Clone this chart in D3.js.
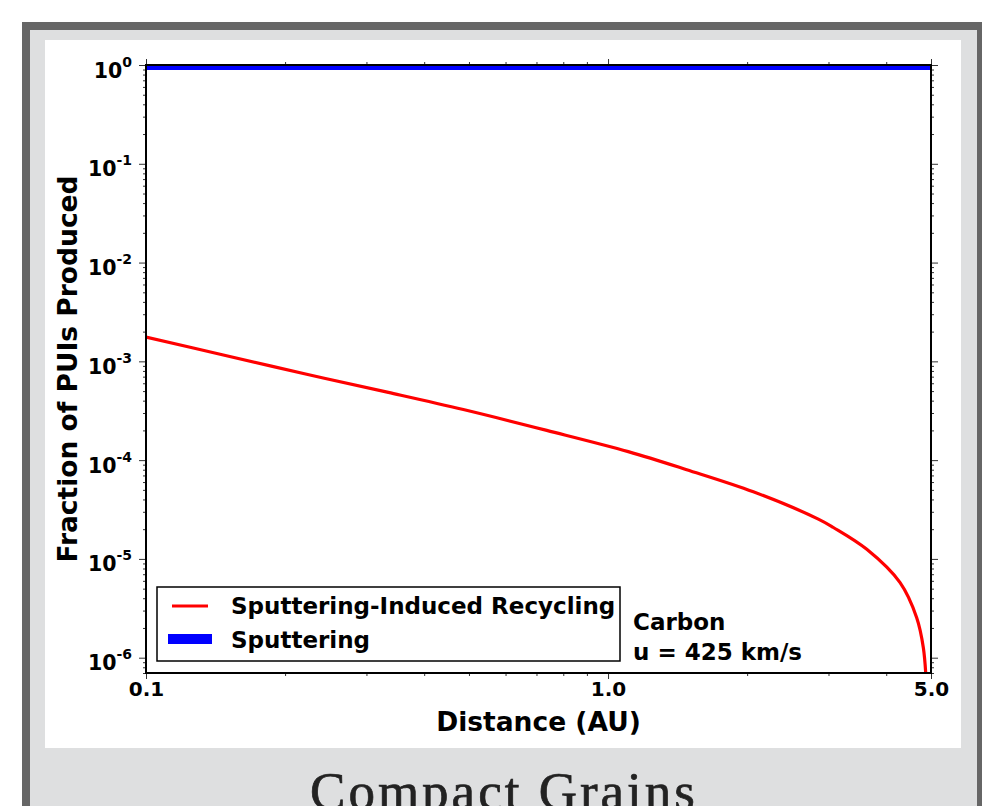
<!DOCTYPE html>
<html>
<head>
<meta charset="utf-8">
<script src="https://d3js.org/d3.v7.min.js"></script>
<style>
    body { margin: 0; background: #fff; }
    svg { display: block; }
    .chart text { font-family: "DejaVu Sans", sans-serif; font-weight: bold; fill: #000; }
    .axis path { display: none; }
    .axis line { stroke: #333; stroke-width: 1; }
</style>
</head>
<body>
<div id="card"></div>
<script>

// data
const distAU = [0.1, 0.147, 0.2227, 0.3346, 0.4862, 0.7368, 1.106, 1.48, 2.063, 2.852, 3.074, 3.631, 4.286, 4.656, 4.813, 4.89];
const recyclingFrac = [1.76e-3, 1.16e-3, 7.4e-4, 4.85e-4, 3.25e-4, 2.0e-4, 1.22e-4, 8.0e-5, 4.78e-5, 2.53e-5, 2.08e-5, 1.25e-5, 5.75e-6, 2.54e-6, 1.26e-6, 5e-7];
const sputterDist = [0.1, 5.0];
const sputterFrac = [1, 1];

const xTickValues = [0.1, 1.0, 5.0];
const xTickLabels = ["0.1", "1.0", "5.0"];
const yExponents = [0, -1, -2, -3, -4, -5, -6];

const legendLabels = ["Sputtering-Induced Recycling", "Sputtering"];
const noteLines = ["Carbon", "u = 425 km/s"];
const xTitle = "Distance (AU)";
const yTitle = "Fraction of PUIs Produced";
const cardTitle = "Compact Grains";

class CurveVis {

    constructor(parentElement){
        this.parentElement = parentElement;
        this.initVis();
    }

    initVis(){
        let vis = this;

        vis.svg = d3.select("#" + vis.parentElement).append("svg")
            .attr("width", 982)
            .attr("height", 806);

        // card frame: dark border, grey panel, white plot sheet
        vis.svg.append("rect").attr("x", 22).attr("y", 22).attr("width", 960).attr("height", 800).attr("fill", "#666666");
        vis.svg.append("rect").attr("x", 30).attr("y", 30).attr("width", 947).attr("height", 790).attr("fill", "#dedfe0");
        vis.svg.append("rect").attr("x", 45).attr("y", 40).attr("width", 916).attr("height", 708).attr("fill", "#ffffff");

        vis.svg.append("text")
            .attr("x", 504)
            .attr("y", 809)
            .attr("text-anchor", "middle")
            .style("font-family", "'Palatino Linotype', 'Book Antiqua', Palatino, 'Liberation Serif', serif")
            .style("font-size", "53px")
            .style("letter-spacing", "3px")
            .style("fill", "#222")
            .style("stroke", "#222")
            .style("stroke-width", 0.7)
            .text(cardTitle);

        // plot area
        vis.left = 146; vis.right = 931; vis.top = 65; vis.bottom = 673;

        vis.x = d3.scaleLog().domain([0.1, 5.0]).range([vis.left, vis.right]);
        vis.y = d3.scaleLog().domain([7e-7, 1]).range([vis.bottom, vis.top]);

        vis.chart = vis.svg.append("g").attr("class", "chart");

        vis.chart.append("clipPath").attr("id", "plotClip")
            .append("rect")
            .attr("x", vis.left).attr("y", vis.top)
            .attr("width", vis.right - vis.left).attr("height", vis.bottom - vis.top);

        vis.wrangleData();
    }

    wrangleData(){
        let vis = this;

        vis.recycling = distAU.map((d, i) => ({x: d, y: recyclingFrac[i]}));
        vis.sputter = sputterDist.map((d, i) => ({x: d, y: sputterFrac[i]}));

        // minor ticks 2..9 in each decade
        vis.xMinor = [];
        vis.yMinor = [];
        for (let k = -2; k <= 1; k++) {
            for (let m = 2; m <= 9; m++) {
                let v = m * Math.pow(10, k);
                if (v > 0.1 && v < 5.0 && !xTickValues.includes(v)) vis.xMinor.push(v);
            }
        }
        for (let k = -7; k <= 0; k++) {
            for (let m = 2; m <= 9; m++) {
                let v = m * Math.pow(10, k);
                if (v >= 7e-7 && v < 1) vis.yMinor.push(v);
            }
        }

        vis.updateVis();
    }

    updateVis(){
        let vis = this;

        let line = d3.line()
            .x(d => vis.x(d.x))
            .y(d => vis.y(d.y))
            .curve(d3.curveCatmullRom.alpha(0.5));

        let lines = vis.chart.append("g").attr("clip-path", "url(#plotClip)");

        lines.append("path")
            .datum(vis.sputter)
            .attr("d", line)
            .attr("fill", "none")
            .attr("stroke", "#0000ff")
            .attr("stroke-width", 10);

        lines.append("path")
            .datum(vis.recycling)
            .attr("d", line)
            .attr("fill", "none")
            .attr("stroke", "#ff0000")
            .attr("stroke-width", 3.2);

        // axes: majors and minors on all four sides
        let yVals = yExponents.map(e => Math.pow(10, e));

        let addAxis = (axisFn, scale, values, size, tx, ty) => {
            return vis.chart.append("g")
                .attr("class", "axis")
                .attr("transform", `translate(${tx},${ty})`)
                .call(axisFn(scale).tickValues(values).tickSize(size).tickFormat(""));
        };

        addAxis(d3.axisBottom, vis.x, vis.xMinor, 3, 0, vis.bottom);
        addAxis(d3.axisTop, vis.x, vis.xMinor, 3, 0, vis.top);
        addAxis(d3.axisTop, vis.x, xTickValues, 6, 0, vis.top);
        addAxis(d3.axisLeft, vis.y, vis.yMinor, 3, vis.left, 0);
        addAxis(d3.axisRight, vis.y, vis.yMinor, 3, vis.right, 0);
        addAxis(d3.axisRight, vis.y, yVals, 7, vis.right, 0);

        let xAxis = addAxis(d3.axisBottom, vis.x, xTickValues, 6, 0, vis.bottom);
        xAxis.selectAll(".tick text")
            .attr("y", 9)
            .attr("dy", "0.71em")
            .style("font-size", "20px")
            .text((d, i) => xTickLabels[i]);

        let yAxis = addAxis(d3.axisLeft, vis.y, yVals, 7, vis.left, 0);
        yAxis.selectAll(".tick text").each(function(d, i){
            let t = d3.select(this)
                .attr("x", -14)
                .attr("dy", null)
                .attr("y", 12)
                .attr("text-anchor", "end")
                .style("font-size", "20.5px")
                .text(null);
            t.append("tspan").text("10");
            t.append("tspan").attr("dy", -11).style("font-size", "14px").text(String(yExponents[i]));
        });

        // frame
        vis.chart.append("rect")
            .attr("x", vis.left).attr("y", vis.top)
            .attr("width", vis.right - vis.left).attr("height", vis.bottom - vis.top)
            .attr("fill", "none")
            .attr("stroke", "#000")
            .attr("stroke-width", 2);

        // axis titles
        vis.chart.append("text")
            .attr("x", (vis.left + vis.right) / 2)
            .attr("y", 731)
            .attr("text-anchor", "middle")
            .style("font-size", "26.5px")
            .text(xTitle);

        vis.chart.append("text")
            .attr("transform", `translate(77,${(vis.top + vis.bottom) / 2}) rotate(-90)`)
            .attr("text-anchor", "middle")
            .style("font-size", "26.5px")
            .text(yTitle);

        // legend
        let legend = vis.chart.append("g");
        legend.append("rect")
            .attr("x", 157).attr("y", 587)
            .attr("width", 463).attr("height", 74)
            .attr("fill", "#fff")
            .attr("stroke", "#000")
            .attr("stroke-width", 1.5);

        let legendStyles = [
            {color: "#ff0000", width: 3, x1: 172, x2: 208, y: 606, ty: 614},
            {color: "#0000ff", width: 10, x1: 168, x2: 212, y: 639, ty: 648}
        ];
        legendLabels.forEach((label, i) => {
            let s = legendStyles[i];
            legend.append("line")
                .attr("x1", s.x1).attr("x2", s.x2)
                .attr("y1", s.y).attr("y2", s.y)
                .attr("stroke", s.color)
                .attr("stroke-width", s.width);
            legend.append("text")
                .attr("x", 231).attr("y", s.ty)
                .style("font-size", "23px")
                .text(label);
        });

        // annotation
        noteLines.forEach((txt, i) => {
            vis.chart.append("text")
                .attr("x", 633)
                .attr("y", 630 + i * 30)
                .style("font-size", "23px")
                .text(txt);
        });
    }
}

new CurveVis("card");
</script>
</body>
</html>
